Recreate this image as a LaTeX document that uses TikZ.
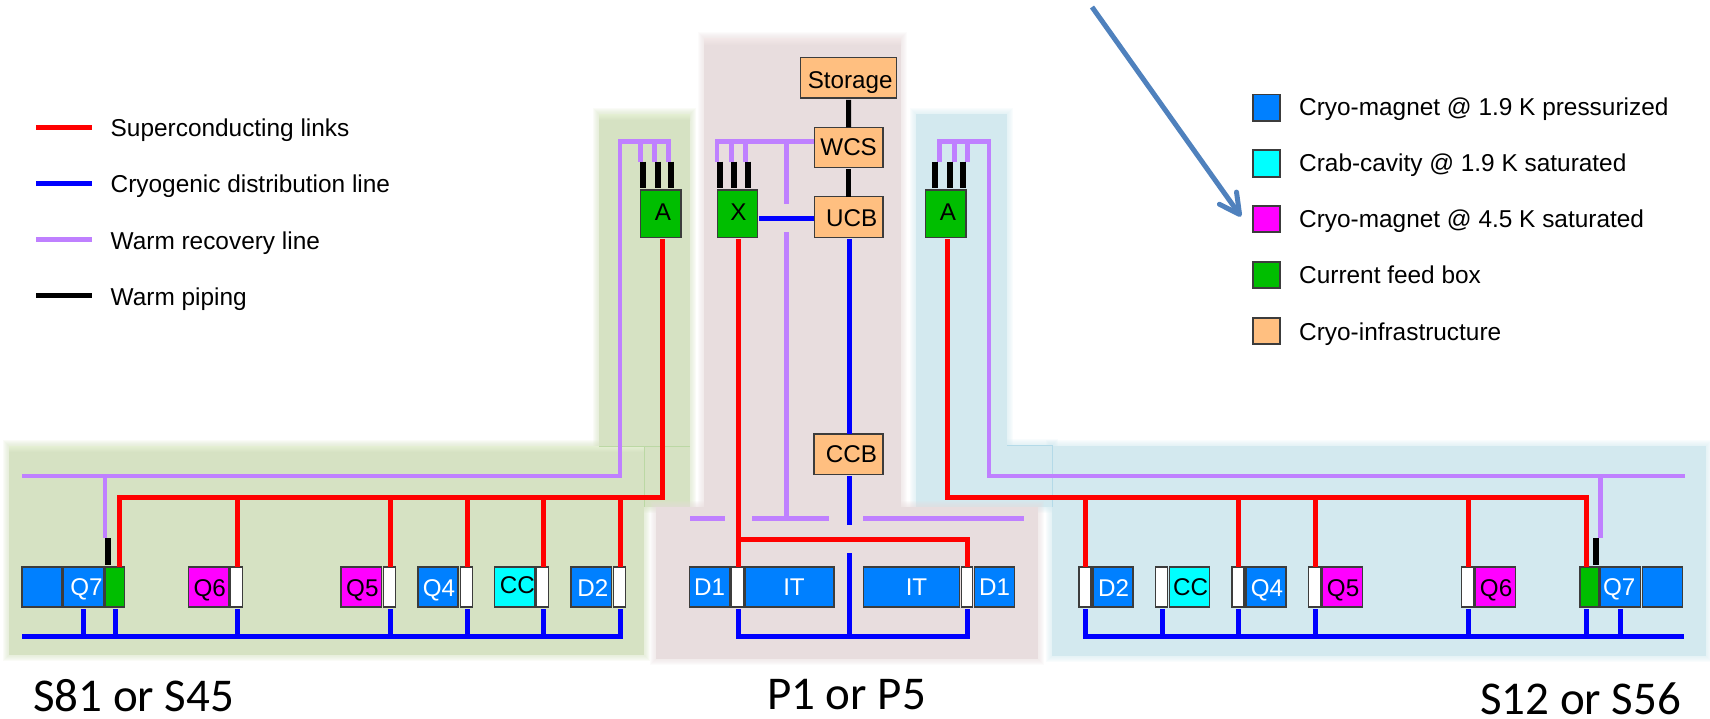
\documentclass[tikz,border=0pt]{standalone}
\usepackage{fontspec}
\usetikzlibrary{arrows.meta}
\setmainfont{Liberation Sans}
\newfontfamily\calib{Carlito}
\definecolor{cmag}{HTML}{0080FF}
\definecolor{ccav}{HTML}{00FFFF}
\definecolor{cpnk}{HTML}{FF00FF}
\definecolor{cgrn}{HTML}{00BE00}
\definecolor{corg}{HTML}{FFBF80}
\definecolor{cpur}{HTML}{BF80FF}
\definecolor{cbor}{HTML}{3C3C3C}
\definecolor{parrow}{HTML}{4F81BD}
\definecolor{pgreen}{HTML}{D6E2C3}
\definecolor{pgreenl}{HTML}{E4EFD3}
\definecolor{pgreenb}{HTML}{BBD8A4}
\definecolor{pmauve}{HTML}{E8DDDE}
\definecolor{pmauvel}{HTML}{F3E8E8}
\definecolor{pblue}{HTML}{D3E9EF}
\definecolor{pblueb}{HTML}{B4DAE8}
\tikzset{
  bx/.style={draw=cbor,line width=1.2pt,inner sep=0pt,outer sep=0pt,text height=17.2pt,text depth=0pt,
    font=\fontsize{24.2}{28}\selectfont,text=black},
  mag/.style={bx,fill=cmag,text=white},
  cav/.style={bx,fill=ccav},
  pnk/.style={bx,fill=cpnk},
  grn/.style={bx,fill=cgrn},
  org/.style={bx,fill=corg},
  wht/.style={bx,fill=white},
  redl/.style={draw=red,line width=5pt},
  bluel/.style={draw=blue,line width=5pt},
  purl/.style={draw=cpur,line width=4.7pt},
  pipel/.style={draw=black,line width=6pt},
  legt/.style={anchor=base west,inner sep=0pt,font=\fontsize{24.4}{28}\selectfont},
  ttl/.style={anchor=base west,inner sep=0pt,font=\calib\fontsize{47}{52}\selectfont},
  seam/.style={line width=0.9pt},
}
% style, name, x1, y1, x2, y2, 2*dx, dy up, text
\newcommand{\mg}[9]{\node[#1,minimum width={(#5-#3)*1pt},minimum height={(#6-#4)*1pt}] (#2) at ({(#3+#5)/2},{(#4+#6)/2}) {\hspace*{#7pt}\raisebox{#8pt}{#9}};}
% soft-edged panel
\newcommand{\panel}[5]{%
  \foreach \k in {6,5,4,3,2,1}{\fill[#5,opacity=0.13] ({#1-\k},{#2-\k}) rectangle ({#3+\k},{#4+\k});}
  \fill[#5] (#1,#2) rectangle (#3,#4);}
\begin{document}
\begin{tikzpicture}[x=1pt,y=-1pt]
\useasboundingbox (0,0) rectangle (1710,718);
% panels
\panel{9}{446}{644}{655}{pgreen}
\panel{599}{114}{690}{507}{pgreen}
\panel{916}{114}{1007}{507}{pblue}
\panel{1007}{445}{1052}{507}{pblue}
\panel{1052}{446}{1706}{656}{pblue}
\panel{704}{38}{901}{507}{pmauve}
\panel{656}{507}{1038}{659}{pmauve}
\shade[top color=pgreenl,bottom color=pgreen] (9,446) rectangle (644,452);
\shade[top color=pgreenl,bottom color=pgreen] (599,114) rectangle (690,120);
\shade[top color=pmauvel,bottom color=pmauve] (704,38) rectangle (901,45);
\draw[pgreenb,seam] (599,446) -- (690,446) (644,446) -- (644,507);
\draw[pblueb,seam] (1007,445) -- (1052,445) (1052,445) -- (1052,507);

% left-hand legend
\foreach \n/\cy/\sty/\by/\txt in {
  a/127.3/redl/136/Superconducting links,
  b/183.3/bluel/192/Cryogenic distribution line,
  c/239.3/purl/249/Warm recovery line,
  d/295.3/pipel/305/Warm piping}{
  \coordinate (lla\n) at (36,\cy);
  \coordinate (llb\n) at (92,\cy);
  \draw[\sty,line width=5pt] (lla\n) -- (llb\n);
  \node[legt] (llt\n) at (110.5,\by) {\txt};
}
% right-hand legend
\foreach \n/\sty/\ya/\yb/\by/\txt in {
  a/mag/94.7/121/115/Cryo-magnet @ 1.9 K pressurized,
  b/cav/150/177/171.7/Crab-cavity @ 1.9 K saturated,
  c/pnk/206/232/227.7/Cryo-magnet @ 4.5 K saturated,
  d/grn/262/288/283.7/Current feed box,
  e/org/318/344/340/Cryo-infrastructure}{
  \mg{\sty}{lg\n}{1253}{\ya}{1280}{\yb}{0}{0}{}
  \node[legt] (lgt\n) at (1299,\by) {\txt};
}

% left sector boxes
\mg{mag}{lb0}{22}{567}{62}{607}{0}{0}{}
\mg{mag}{lq7}{63.5}{567}{103.5}{607}{6}{0}{Q7}
\mg{grn}{lgf}{105}{567}{124.6}{607}{0}{0}{}
\mg{pnk}{lq6}{188.5}{567}{229}{607}{2}{-1}{Q6}
\mg{wht}{lw6}{230.6}{567}{242.8}{607}{0}{0}{}
\mg{pnk}{lq5}{341}{567}{381.7}{607}{2}{-1}{Q5}
\mg{wht}{lw5}{383.4}{567}{395.6}{607}{0}{0}{}
\mg{mag}{lq4}{418}{567}{458}{607}{2}{-1}{Q4}
\mg{wht}{lw4}{460.4}{567}{472.6}{607}{0}{0}{}
\mg{cav}{lcc}{494.5}{567}{535}{607}{5}{2}{CC}
\mg{wht}{lwc}{536.6}{567}{548.8}{607}{0}{0}{}
\mg{mag}{ld2}{571}{567}{611.5}{607}{3}{-1}{D2}
\mg{wht}{lw2}{613.2}{567}{625.4}{607}{0}{0}{}
% centre boxes
\mg{mag}{md1}{689.3}{567}{730}{607}{0}{0}{D1}
\mg{wht}{mwl}{731.3}{567}{743.3}{607}{0}{0}{}
\mg{mag}{mit1}{745}{567}{834}{607}{9}{0}{IT}
\mg{mag}{mit2}{863.3}{567}{959.7}{607}{10}{0}{IT}
\mg{wht}{mwr}{961.3}{567}{972.7}{607}{0}{0}{}
\mg{mag}{md2}{974.3}{567}{1014.7}{607}{0}{0}{D1}
% right sector boxes
\mg{wht}{rw2}{1079}{567}{1091}{607}{0}{0}{}
\mg{mag}{rd2}{1093}{567}{1133}{607}{1}{-1}{D2}
\mg{wht}{rwc}{1155.4}{567}{1167.8}{607}{0}{0}{}
\mg{cav}{rcc}{1169.5}{567}{1209.7}{607}{2}{0}{CC}
\mg{wht}{rw4}{1232}{567}{1244}{607}{0}{0}{}
\mg{mag}{rq4}{1246}{567}{1286}{607}{2}{-1}{Q4}
\mg{wht}{rw5}{1308.8}{567}{1321}{607}{0}{0}{}
\mg{pnk}{rq5}{1322.5}{567}{1362.6}{607}{1}{-1}{Q5}
\mg{wht}{rw6}{1461.8}{567}{1474}{607}{0}{0}{}
\mg{pnk}{rq6}{1475.5}{567}{1515.6}{607}{1}{-1}{Q6}
\mg{grn}{rgf}{1580}{567}{1599}{607}{0}{0}{}
\mg{mag}{rq7}{1600.7}{567}{1640.8}{607}{-3}{0}{Q7}
\mg{mag}{rb0}{1642.6}{567}{1682.7}{607}{0}{0}{}
% upper boxes
\mg{grn}{al}{640.7}{190}{681}{237.3}{4}{2}{A}
\mg{grn}{xb}{717.3}{190}{757.7}{237.3}{2}{2}{X}
\mg{grn}{ar}{925.7}{190}{966}{237.3}{4}{2}{A}
\mg{org}{sto}{800.7}{57.3}{896.7}{98}{3}{-2}{Storage}
\mg{org}{wcs}{814.3}{127.3}{883}{167.3}{0}{0}{WCS}
\mg{org}{ucb}{814.3}{196.7}{883}{237.3}{6}{-1}{UCB}
\mg{org}{ccb}{814}{434}{883}{474.7}{6}{0}{CCB}

% named junctions
\coordinate (lrt) at (662,497);
\coordinate (lrb) at (119,497);
\coordinate (rrt) at (947,497);
\coordinate (rrb) at (1586.6,497);
\coordinate (lbb) at (22,636.7);
\coordinate (lbe) at (620.4,636.7);
\coordinate (mbl) at (738.3,636.7);
\coordinate (mbr) at (967.7,636.7);
\coordinate (mbc) at (849.7,636.7);
\coordinate (mbt) at (849.7,553);
\coordinate (rbb) at (1085.7,636.7);
\coordinate (rbe) at (1684,636.7);
\coordinate (lpe) at (22,476);
\coordinate (lpc) at (620,476);
\coordinate (lpu) at (620,141.3);
\coordinate (lpr) at (668.3,141.3);
\coordinate (lpd) at (668.3,161.7);
\coordinate (lpj) at (105,476);
\coordinate (lpk) at (105,538);
\coordinate (lbl) at (108,538);
\coordinate (rpe) at (1685,476);
\coordinate (rpc) at (989,476);
\coordinate (rpu) at (989,141.3);
\coordinate (rpl) at (939.7,141.3);
\coordinate (rpd) at (939.7,161.7);
\coordinate (rpj) at (1600.7,476);
\coordinate (rpk) at (1600.7,538);
\coordinate (rbl) at (1596,538);
\coordinate (mpl) at (717,141.3);
\coordinate (mpd) at (717,161.7);
\coordinate (mpv) at (786.3,141.3);
\coordinate (mpg) at (786.3,203.7);
\coordinate (mph) at (786.3,232);
\coordinate (mpb) at (786.3,518.3);
\coordinate (da1) at (690,518.3);
\coordinate (da2) at (725,518.3);
\coordinate (db1) at (752,518.3);
\coordinate (db2) at (829,518.3);
\coordinate (dc1) at (863,518.3);
\coordinate (dc2) at (1024,518.3);
\coordinate (mrh) at (738.3,539);
\coordinate (mrr) at (967.7,539);
\coordinate (ccd) at (849.3,525);

% warm recovery lines
\draw[purl] (lpe) -- (lpc) -- (lpu) -- (lpr) -- (lpd);
\draw[purl] (lpj) -- (lpk);
\draw[purl] (rpe) -- (rpc) -- (rpu) -- (rpl) -- (rpd);
\draw[purl] (rpj) -- (rpk);
\draw[purl] (wcs.west |- mpl) -- (mpl) -- (mpd);
\draw[purl] (mpv) -- (mpg);
\draw[purl] (mph) -- (mpb);
\draw[purl] (da1) -- (da2);
\draw[purl] (db1) -- (db2);
\draw[purl] (dc1) -- (dc2);
\foreach \n/\x/\y in {a/640.3/141.3,b/654.3/141.3,c/731.3/141.3,d/745.3/141.3,e/954.3/141.3,f/967.3/141.3}{
  \coordinate (st\n) at (\x,\y);
  \draw[purl] (st\n) -- (st\n |- lpd);
}
% warm piping
\foreach \n/\x/\b in {a/643.3/al,b/657.7/al,c/671/al,d/720/xb,e/734/xb,f/747.7/xb,g/935.3/ar,h/949.7/ar,i/963.3/ar}{
  \coordinate (pp\n) at (\x,161.7);
  \draw[pipel,shorten >=1.8pt] (pp\n) -- (pp\n |- \b.north);
}
\draw[pipel,shorten >=1.8pt] (lbl) -- (lbl |- lgf.north);
\draw[pipel,shorten >=1.8pt] (rbl) -- (rbl |- rgf.north);
\draw[pipel,line width=5pt,shorten <=1.8pt] (sto.south) -- (wcs.north);
\draw[pipel,line width=5pt,shorten <=1.8pt] (wcs.south) -- (ucb.north);
% superconducting links
\draw[redl,shorten <=2pt] (lrt |- al.south) -- (lrt) -- (lrb) -- (lrb |- lgf.north);
\draw[redl,shorten <=2pt] (rrt |- ar.south) -- (rrt) -- (rrb) -- (rrb |- rgf.north);
\draw[redl,shorten <=2pt] (mrh |- xb.south) -- (mrh |- mwl.north);
\draw[redl] (mrh) -- (mrr) -- (mrr |- mwr.north);
\foreach \n in {lw6,lw5,lw4,lwc,lw2}{\draw[redl] ([xshift=.9pt]\n.north) -- ([xshift=.9pt]\n.north |- lrb);}
\foreach \n in {rw2,rw4,rw5,rw6}{\draw[redl] ([xshift=.9pt]\n.north) -- ([xshift=.9pt]\n.north |- rrb);}
% cryogenic distribution
\draw[bluel] (lbb) -- (lbe);
\draw[bluel] (mbl) -- (mbr);
\draw[bluel] (rbb) -- (rbe);
\foreach \n in {lgf,lw6,lw5,lw4,lwc}{\draw[bluel,shorten <=2pt] ([xshift=.9pt]\n.south) -- ([xshift=.9pt]\n.south |- lbb);}
\draw[bluel,shorten <=2pt] (lq7.south) -- (lq7.south |- lbb);
\draw[bluel,shorten <=2pt] ([xshift=.9pt]lw2.south) -- ([xshift=.9pt,yshift=-2.5pt]lw2.south |- lbb);
\draw[bluel,shorten <=2pt] (mbl |- mwl.south) -- ([yshift=-2.5pt]mbl);
\draw[bluel,shorten <=2pt] (mbr |- mwr.south) -- ([yshift=-2.5pt]mbr);
\draw[bluel] (mbt) -- (mbc);
\draw[bluel,shorten <=2pt] ([xshift=.7pt]rw2.south) -- ([xshift=.7pt,yshift=-2.5pt]rw2.south |- rbb);
\foreach \n in {rwc,rw4,rw5,rw6}{\draw[bluel,shorten <=2pt] ([xshift=.9pt]\n.south) -- ([xshift=.9pt]\n.south |- rbb);}
\draw[bluel,shorten <=2pt] (rrb |- rgf.south) -- (rrb |- rbb);
\draw[bluel,shorten <=2pt] (rq7.south) -- (rq7.south |- rbb);
\draw[bluel,shorten <=1.7pt] ([yshift=-1.3pt]xb.east |- ucb.west) -- ([yshift=-1.3pt]ucb.west);
\draw[bluel,shorten <=1.7pt] ([xshift=.6pt]ucb.south) -- ([xshift=.6pt]ucb.south |- ccb.north);
\draw[bluel,shorten <=1.3pt] (ccd |- ccb.south) -- (ccd);

% arrow
\coordinate (atl) at (1092,7);
\coordinate (atp) at (1241,216.5);
\draw[parrow,line width=5pt,-{Straight Barb[length=20pt,width=21pt,round]}] (atl) -- (atp);

% titles
\node[ttl] (ts1) at (33,711) {S81 or S45};
\node[ttl] (ts2) at (767,709) {P1 or P5};
\node[ttl] (ts3) at (1480,714) {S12 or S56};
\end{tikzpicture}
\end{document}
